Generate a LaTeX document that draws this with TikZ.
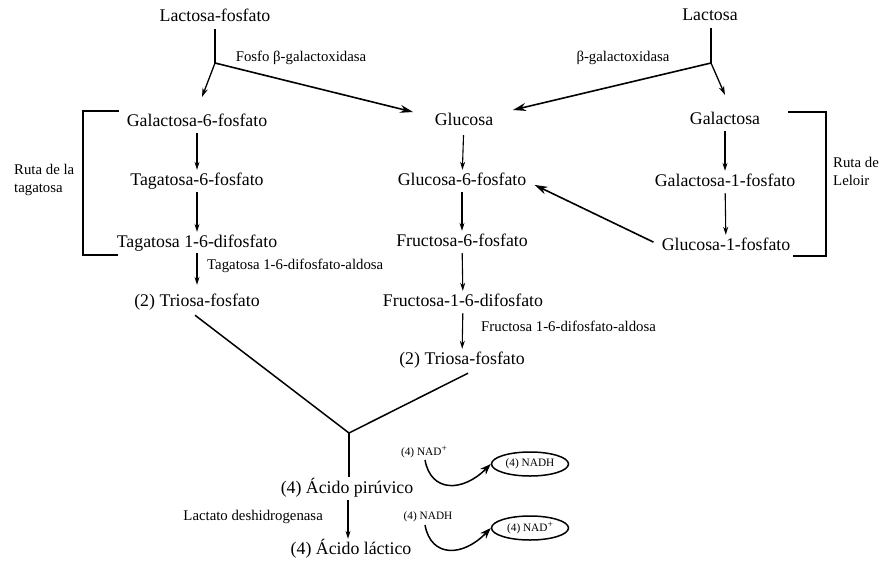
\documentclass[tikz,border=0pt]{standalone}
\usepackage{fontspec}
\setmainfont{Liberation Serif}
\usetikzlibrary{arrows.meta,shapes.geometric}
\newcommand{\plussup}{\raisebox{3.2pt}{\fontsize{9.5}{9.5}\selectfont +}}
\begin{document}
\begin{tikzpicture}[x=1pt,y=-1pt,
  chem/.style={font=\fontsize{17.8}{20}\selectfont, inner sep=0pt, text height=12pt, text depth=4pt},
  enz/.style={font=\fontsize{14.8}{17.5}\selectfont, inner sep=0pt},
  cof/.style={font=\fontsize{11.3}{12}\selectfont, inner sep=0pt},
  cofbox/.style={draw, ellipse, line width=1.5pt, minimum width=77pt, minimum height=24pt,
                 inner sep=0pt, font=\fontsize{11.3}{12}\selectfont},
  thinarrow/.style={line width=1.1pt, -{Stealth[length=8pt,width=5pt]}, shorten <=3pt, shorten >=3pt},
  boldarrow/.style={line width=1.6pt, -{Stealth[length=13pt,width=8pt]}},
  plainline/.style={line width=1.5pt},
  bracketline/.style={line width=1.1pt},
]
\useasboundingbox (0,0) rectangle (880,560);

% substrates
\node[chem] (lacf) at (215,17) {Lactosa-fosfato};
\node[chem] (lac)  at (710,16) {Lactosa};

% tagatose pathway
\node[chem] (gal6p) at (197,122) {Galactosa-6-fosfato};
\node[chem] (tag6p) at (197,181) {Tagatosa-6-fosfato};
\node[chem] (tag16) at (197,243) {Tagatosa 1-6-difosfato};
\node[chem] (tri1)  at (197,302) {(2) Triosa-fosfato};

% glycolysis
\node[chem] (glu)  at (464,121) {Glucosa};
\node[chem] (g6p)  at (462,181) {Glucosa-6-fosfato};
\node[chem] (f6p)  at (462,242) {Fructosa-6-fosfato};
\node[chem] (f16)  at (463,302) {Fructosa-1-6-difosfato};
\node[chem] (tri2) at (462,360) {(2) Triosa-fosfato};

% Leloir pathway
\node[chem] (gal)  at (725,120) {Galactosa};
\node[chem] (gal1p) at (725,182) {Galactosa-1-fosfato};
\node[chem] (g1p)  at (726,246) {Glucosa-1-fosfato};

% end products
\node[chem] (pyr) at (347,489) {(4) Ácido pirúvico};
\node[chem] (lact) at (351,550) {(4) Ácido láctico};

% enzymes and pathway labels
\node[enz] (e1) at (301,58) {Fosfo β-galactoxidasa};
\node[enz] (e2) at (623,58) {β-galactoxidasa};
\node[enz, anchor=west] (e3) at (207,266) {Tagatosa 1-6-difosfato-aldosa};
\node[enz, anchor=west] (e4) at (481,326) {Fructosa 1-6-difosfato-aldosa};
\node[enz, anchor=east] (e5) at (323,517) {Lactato deshidrogenasa};
\node[enz, anchor=west, align=left] (rt) at (14,180) {Ruta de la\\tagatosa};
\node[enz, anchor=west, align=left] (rl) at (833,171.5) {Ruta de\\Leloir};

% cofactors
\node[cof] (nadin)  at (424,452) {(4) NAD\plussup};
\node[cofbox] (nadhout) at (530,464) {(4) NADH};
\node[cof] (nadhin) at (428,517) {(4) NADH};
\node[cofbox] (nadout) at (530,528) {(4) NAD\plussup};

% branch points and arrow tips
\coordinate (bl) at (215,63);
\coordinate (br) at (711,63);
\coordinate (tipgal6p) at (202,97);
\coordinate (tipglul) at (413,112);
\coordinate (tipglur) at (513,110);
\coordinate (tipgal) at (725,95);
\coordinate (junc) at (349,433);

% lactose-phosphate hydrolysis
\draw[line width=1.1pt] (lacf.south -| bl) ++(0,4) -- (bl);
\draw[line width=1.3pt, -{Stealth[length=9pt,width=5.5pt]}] (bl) -- (tipgal6p);
\draw[boldarrow] (bl) -- (tipglul);

% lactose hydrolysis
\draw[line width=1.1pt] (lac.south -| br) ++(0,4) -- (br);
\draw[line width=1.3pt, -{Stealth[length=9pt,width=5.5pt]}] (br) -- (tipgal);
\draw[boldarrow] (br) -- (tipglur);

% vertical steps
\draw[thinarrow] (gal6p) -- (tag6p);
\draw[thinarrow] (tag6p) -- (tag16);
\draw[thinarrow, shorten <=2pt, shorten >=9pt] (tag16) -- (tri1);
\draw[thinarrow, shorten <=6pt] (glu) -- (g6p);
\draw[thinarrow] (g6p) -- (f6p);
\draw[thinarrow] (f6p) -- (f16);
\draw[thinarrow] (f16) -- (tri2);
\draw[thinarrow] (gal) -- (gal1p);
\draw[thinarrow] (gal1p) -- (g1p);
\draw[boldarrow, shorten <=9pt, shorten >=9pt] (g1p.west) -- (g6p.east);

% triose phosphates converge to pyruvate
\draw[plainline] ([xshift=-2pt]tri1.south) ++(0,5) -- (junc);
\draw[plainline] ([xshift=6pt]tri2.south) ++(0,5) -- (junc);
\draw[line width=1.1pt] (junc) -- ([yshift=4pt]pyr.north -| junc);
\draw[thinarrow] (pyr.south -| 348,0) -- (lact.north -| 348,0);

% brackets
\draw[bracketline] (119,111) -- (83,111) -- (83,255) -- (118,255);
\draw[bracketline] (788,112) -- (826,112) -- (826,256) -- (793,256);

% cofactor turnover
\draw[line width=1.5pt, -{Stealth[length=11pt,width=8pt]}]
  (425,460) .. controls (431,493) and (463,492) .. (nadhout.west);
\draw[line width=1.5pt, -{Stealth[length=11pt,width=8pt]}]
  (425,525) .. controls (431,558) and (463,557) .. (nadout.west);
\end{tikzpicture}
\end{document}
